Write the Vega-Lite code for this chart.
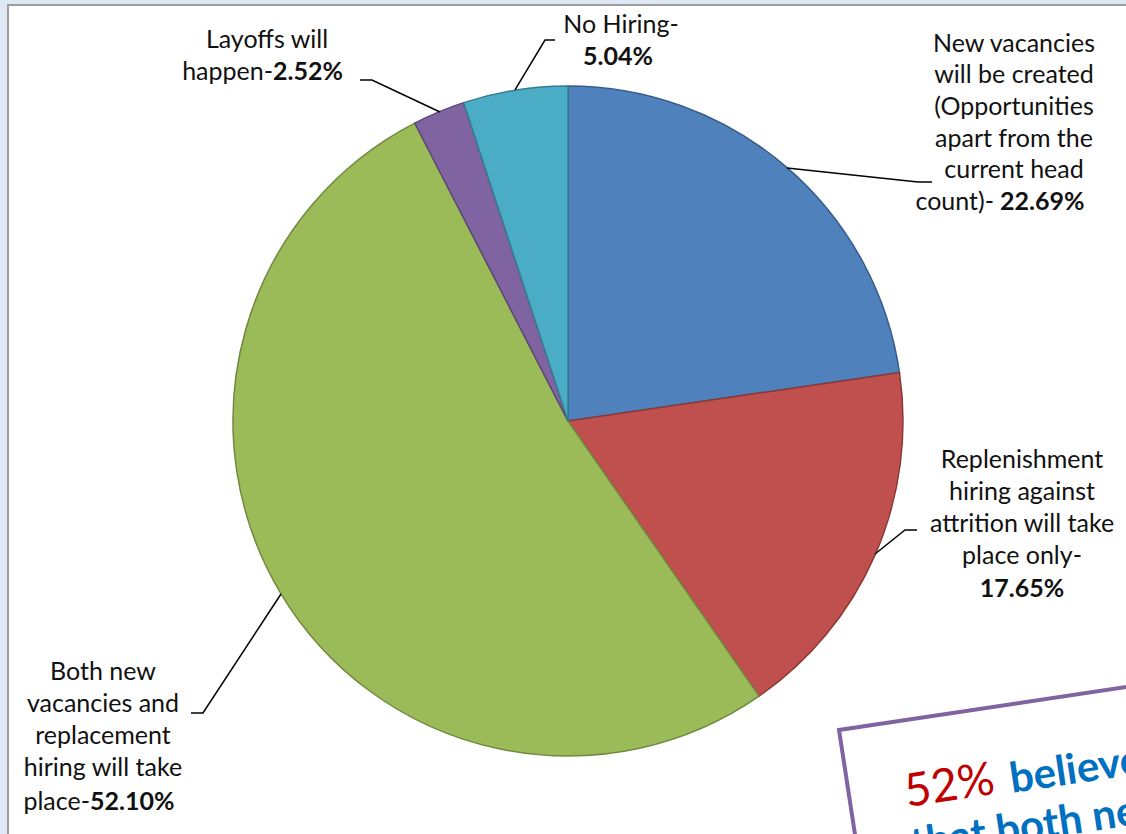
{
  "$schema": "https://vega.github.io/schema/vega-lite/v6.json",
  "width": 1120,
  "height": 831,
  "padding": {"left": 8, "top": 5, "right": 0, "bottom": 0},
  "autosize": {"type": "none"},
  "background": "#dde8f4",
  "config": {
    "view": {"stroke": "#9c9c9c", "strokeWidth": 2, "fill": "white"}
  },
  "datasets": {
    "slices": [
      {"category": "New vacancies will be created", "value": 22.69, "order": 1},
      {"category": "Replenishment hiring only", "value": 17.65, "order": 2},
      {"category": "Both new vacancies and replacement hiring", "value": 52.10, "order": 3},
      {"category": "Layoffs will happen", "value": 2.52, "order": 4},
      {"category": "No Hiring", "value": 5.04, "order": 5}
    ],
    "leaders": [
      {"label": "Layoffs", "seq": 1, "x": -0.6209, "y": 1.0179},
      {"label": "Layoffs", "seq": 2, "x": -0.5851, "y": 1.0179},
      {"label": "Layoffs", "seq": 3, "x": -0.3821, "y": 0.9224},
      {"label": "NoHiring", "seq": 1, "x": -0.0388, "y": 1.1373},
      {"label": "NoHiring", "seq": 2, "x": -0.0687, "y": 1.1373},
      {"label": "NoHiring", "seq": 3, "x": -0.1582, "y": 0.9881},
      {"label": "NewVac", "seq": 1, "x": 0.6537, "y": 0.7552},
      {"label": "NewVac", "seq": 2, "x": 1.0448, "y": 0.7134},
      {"label": "NewVac", "seq": 3, "x": 1.0866, "y": 0.7134},
      {"label": "Replen", "seq": 1, "x": 0.9164, "y": -0.3970},
      {"label": "Replen", "seq": 2, "x": 1.0060, "y": -0.3254},
      {"label": "Replen", "seq": 3, "x": 1.0418, "y": -0.3254},
      {"label": "Both", "seq": 1, "x": -0.8567, "y": -0.5164},
      {"label": "Both", "seq": 2, "x": -1.0896, "y": -0.8716},
      {"label": "Both", "seq": 3, "x": -1.1254, "y": -0.8716}
    ],
    "labelLines": [
      {"text": "Layoffs will", "x": -0.8985, "y": 1.1134},
      {"text": "No Hiring-", "x": 0.1582, "y": 1.1582},
      {"text": "New vacancies", "x": 1.3313, "y": 1.1015},
      {"text": "will be created", "x": 1.3313, "y": 1.0090},
      {"text": "(Opportunities", "x": 1.3313, "y": 0.9134},
      {"text": "apart from the", "x": 1.3313, "y": 0.8179},
      {"text": "current head", "x": 1.3313, "y": 0.7254},
      {"text": "Replenishment", "x": 1.3552, "y": -0.1403},
      {"text": "hiring against", "x": 1.3552, "y": -0.2358},
      {"text": "attrition will take", "x": 1.3552, "y": -0.3313},
      {"text": "place only-", "x": 1.3552, "y": -0.4269},
      {"text": "Both new", "x": -1.3881, "y": -0.7731},
      {"text": "vacancies and", "x": -1.3881, "y": -0.8687},
      {"text": "replacement", "x": -1.3881, "y": -0.9642},
      {"text": "hiring will take", "x": -1.3881, "y": -1.0597}
    ],
    "valueLines": [
      {"text": "5.04%", "x": 0.1493, "y": 1.0627},
      {"text": "17.65%", "x": 1.3552, "y": -0.5254}
    ],
    "labelHeads": [
      {"text": "happen-", "x": -0.8806, "y": 1.0179},
      {"text": "count)-", "x": 1.2716, "y": 0.6299},
      {"text": "place-", "x": -1.4269, "y": -1.1612}
    ],
    "labelValues": [
      {"text": "2.52%", "x": -0.8806, "y": 1.0179},
      {"text": "22.69%", "x": 1.2896, "y": 0.6299},
      {"text": "52.10%", "x": -1.4269, "y": -1.1612}
    ],
    "calloutBox": [
      {"seq": 1, "x": 0.8866, "y": -1.4299},
      {"seq": 2, "x": 0.8090, "y": -0.9224},
      {"seq": 3, "x": 1.8866, "y": -0.7612}
    ],
    "calloutFigure": [
      {"text": "52%", "x": 1.0119, "y": -1.1522}
    ],
    "calloutStatement": [
      {"text": "believe", "x": 1.3254, "y": -1.1104},
      {"text": "that both new vacancies", "x": 1.0299, "y": -1.3045}
    ]
  },
  "layer": [
    {
      "data": {"name": "slices"},
      "mark": {"type": "arc", "radius": 335, "strokeWidth": 1.5},
      "encoding": {
        "x": {"datum": 0, "type": "quantitative", "scale": {"domain": [-1.6716, 1.6716], "nice": false, "zero": false}, "axis": null},
        "y": {"datum": 0, "type": "quantitative", "scale": {"domain": [-1.2388, 1.2418], "nice": false, "zero": false}, "axis": null},
        "theta": {"field": "value", "type": "quantitative", "stack": true},
        "order": {"field": "order", "type": "quantitative"},
        "color": {
          "field": "category", "type": "nominal", "legend": null,
          "scale": {
            "domain": ["New vacancies will be created", "Replenishment hiring only", "Both new vacancies and replacement hiring", "Layoffs will happen", "No Hiring"],
            "range": ["#4F81BD", "#C0504D", "#9BBB59", "#8064A2", "#4BACC6"]
          }
        },
        "stroke": {
          "field": "category", "type": "nominal", "legend": null,
          "scale": {
            "domain": ["New vacancies will be created", "Replenishment hiring only", "Both new vacancies and replacement hiring", "Layoffs will happen", "No Hiring"],
            "range": ["#385D8A", "#8C3836", "#71893F", "#5C4776", "#357D91"]
          }
        }
      }
    },
    {
      "data": {"name": "leaders"},
      "mark": {"type": "line", "color": "#000000", "strokeWidth": 1.5},
      "encoding": {
        "x": {"field": "x", "type": "quantitative"},
        "y": {"field": "y", "type": "quantitative"},
        "detail": {"field": "label", "type": "nominal"},
        "order": {"field": "seq", "type": "quantitative"}
      }
    },
    {
      "data": {"name": "labelLines"},
      "mark": {"type": "text", "font": "Lato", "fontSize": 25, "align": "center", "baseline": "alphabetic", "color": "#111111"},
      "encoding": {
        "x": {"field": "x", "type": "quantitative"},
        "y": {"field": "y", "type": "quantitative"},
        "text": {"field": "text"}
      }
    },
    {
      "data": {"name": "valueLines"},
      "mark": {"type": "text", "font": "Lato", "fontSize": 25, "fontWeight": "bold", "align": "center", "baseline": "alphabetic", "color": "#111111"},
      "encoding": {
        "x": {"field": "x", "type": "quantitative"},
        "y": {"field": "y", "type": "quantitative"},
        "text": {"field": "text"}
      }
    },
    {
      "data": {"name": "labelHeads"},
      "mark": {"type": "text", "font": "Lato", "fontSize": 25, "align": "right", "baseline": "alphabetic", "color": "#111111"},
      "encoding": {
        "x": {"field": "x", "type": "quantitative"},
        "y": {"field": "y", "type": "quantitative"},
        "text": {"field": "text"}
      }
    },
    {
      "data": {"name": "labelValues"},
      "mark": {"type": "text", "font": "Lato", "fontSize": 25, "fontWeight": "bold", "align": "left", "baseline": "alphabetic", "color": "#111111"},
      "encoding": {
        "x": {"field": "x", "type": "quantitative"},
        "y": {"field": "y", "type": "quantitative"},
        "text": {"field": "text"}
      }
    },
    {
      "data": {"name": "calloutBox"},
      "mark": {"type": "line", "color": "#8064A2", "strokeWidth": 4, "strokeJoin": "miter"},
      "encoding": {
        "x": {"field": "x", "type": "quantitative"},
        "y": {"field": "y", "type": "quantitative"},
        "order": {"field": "seq", "type": "quantitative"}
      }
    },
    {
      "data": {"name": "calloutFigure"},
      "mark": {"type": "text", "font": "Lato", "fontSize": 46, "align": "left", "baseline": "alphabetic", "angle": -8.5, "color": "#C00000"},
      "encoding": {
        "x": {"field": "x", "type": "quantitative"},
        "y": {"field": "y", "type": "quantitative"},
        "text": {"field": "text"}
      }
    },
    {
      "data": {"name": "calloutStatement"},
      "mark": {"type": "text", "font": "Lato", "fontSize": 42, "fontWeight": "bold", "align": "left", "baseline": "alphabetic", "angle": -8.5, "color": "#0070C0"},
      "encoding": {
        "x": {"field": "x", "type": "quantitative"},
        "y": {"field": "y", "type": "quantitative"},
        "text": {"field": "text"}
      }
    }
  ]
}
